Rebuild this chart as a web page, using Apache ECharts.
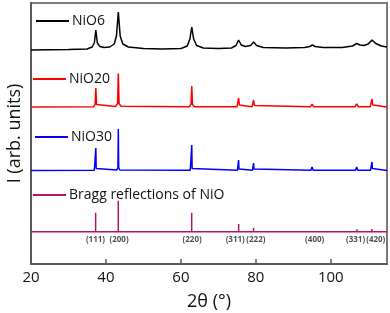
<!DOCTYPE html>
<html><head><meta charset="utf-8">
<script src="https://cdn.jsdelivr.net/npm/echarts@6/dist/echarts.min.js"></script>
<style>html,body{margin:0;padding:0;background:#fff}#c{width:390px;height:313px}</style>
</head><body><div id="c"></div>
<script>
// 2θ (deg) vs intensity (arb., offset)
const nio6 = [[20,214],[30,214.5],[35,215],[36.3,217],[36.9,221],[37.3,234],[37.7,221],[38.4,217.5],[39.5,216.5],[41,217],[42.2,220],[42.8,228],[43.3,252],[43.8,228],[44.5,220],[46,217],[50,215.5],[55,215],[60,215.5],[61.7,218],[62.4,225],[62.9,237],[63.4,225],[64.2,218.5],[66,216],[70,215.5],[73.5,216],[74.7,218.5],[75.4,224],[76.1,219],[77.2,217.5],[78.6,218.5],[79.4,222],[80.2,218.5],[82,216.5],[88,216],[93,216.5],[94.4,217.5],[95.1,219],[95.8,217.5],[98,216.5],[103,216.5],[105.8,218],[106.9,220.5],[107.8,219],[108.8,218.5],[110,220],[111,224],[112,220.5],[113.5,218],[115,217]];
const nio20 = [[20,157],[36.7,157.3],[37.1,159.5],[37.3,176],[37.5,159.5],[37.9,157.5],[42.6,157.6],[43.1,160.5],[43.3,190.5],[43.5,160.5],[44,157.8],[62.2,157.3],[62.7,159.5],[62.9,178],[63.1,159.5],[63.6,157.3],[75,157.3],[75.2,159],[75.4,166],[75.6,159],[75.9,157.3],[79,157.3],[79.2,158.5],[79.4,164],[79.6,158.5],[79.9,157.3],[94.6,157.3],[95,160],[95.4,157.3],[106.4,157.3],[106.9,160],[107.4,157.3],[110.5,157.3],[110.8,159],[111,165],[111.2,159],[111.6,157.3],[115,157]];
const nio30 = [[20,93.5],[36.9,93.8],[37.2,95.5],[37.3,116],[37.4,95.5],[37.7,93.8],[42.9,94],[43.2,96.5],[43.3,135],[43.4,96.5],[43.7,94],[62.5,93.8],[62.8,95.5],[62.9,119],[63.0,95.5],[63.3,93.8],[75.1,93.8],[75.3,95],[75.4,104],[75.5,95],[75.8,93.8],[79.1,93.8],[79.3,95],[79.4,101],[79.5,95],[79.8,93.8],[94.7,93.8],[95,97],[95.3,93.8],[106.6,93.8],[106.9,97],[107.2,93.8],[110.6,93.8],[110.9,95.5],[111,102],[111.1,95.5],[111.4,93.8],[115,93.5]];
const braggPos = [37.25,43.29,62.88,75.42,79.38,95.05,106.99,110.95];
const braggTop = [51.3,63.3,51.3,40,36.3,34,34.7,35];
const braggBase = 32.3;
const hklLabels = ['(111)','(200)','(220)','(311)','(222)','(400)','(331)','(420)'];
const hklLabelX = [37.2,43.5,63,74.5,80,95.7,106.6,112];
const hklLabelY = 24;
const xTicks = [20,40,60,80,100];

const bragg = [[20,braggBase]];
braggPos.forEach((p,i)=>{bragg.push([p,braggBase],[p,braggTop[i]],[p,braggBase]);});
bragg.push([115,braggBase]);
const hkl = hklLabelX.map((x,i)=>({value:[x,hklLabelY],name:hklLabels[i]}));

const FONT = 'Open Sans';
const AX = '#5a5a5a';
function leg(name, left, top){
  return {data:[name], left:left, top:top, padding:0, itemWidth:33, itemHeight:2, itemGap:3,
    icon:'rect', selectedMode:false,
    textStyle:{fontFamily:FONT, fontSize:14, color:'#111', padding:[0,0,0,-2]}};
}
const chart = echarts.init(document.getElementById('c'), null, {renderer:'canvas'});
chart.setOption({
  animation:false,
  grid:{left:31, right:3, top:3, bottom:49, show:true, borderColor:'#7a7a7a', borderWidth:2,
    containLabel:false, outerBoundsMode:'none'},
  legend:[leg('NiO6',36,14), leg('NiO20',33,72), leg('NiO30',35,130), leg('Bragg reflections of NiO',33,188)],
  xAxis:{type:'value', min:20, max:115, interval:20,
    name:'2θ (°)', nameLocation:'middle', nameGap:29,
    nameTextStyle:{fontFamily:FONT, fontSize:18, color:'#111'},
    axisLine:{lineStyle:{color:AX, width:2}},
    axisTick:{inside:true, length:5, lineStyle:{color:AX, width:1.5}},
    axisLabel:{fontFamily:FONT, fontSize:15, color:'#111', margin:6, showMaxLabel:false},
    splitLine:{show:false}},
  yAxis:{type:'value', min:0, max:261,
    name:'I (arb. units)', nameLocation:'middle', nameGap:7,
    nameTextStyle:{fontFamily:FONT, fontSize:18, color:'#111'},
    axisLine:{show:true, lineStyle:{color:AX, width:2}},
    axisTick:{show:false}, axisLabel:{show:false}, splitLine:{show:false}},
  series:[
    {name:'NiO6', type:'line', data:nio6, showSymbol:false, color:'#000', lineStyle:{width:1.5}},
    {name:'NiO20', type:'line', data:nio20, showSymbol:false, color:'#ff0000', lineStyle:{width:1.5}},
    {name:'NiO30', type:'line', data:nio30, showSymbol:false, color:'#0000ff', lineStyle:{width:1.5}},
    {name:'Bragg reflections of NiO', type:'line', data:bragg, showSymbol:false, color:'#b3126f', lineStyle:{width:1.5}},
    {name:'hkl', type:'scatter', data:hkl, symbolSize:0, silent:true,
      label:{show:true, position:'inside', formatter:p=>p.name, fontFamily:FONT, fontSize:8, fontWeight:'bold', color:'#222'}}
  ]
});
</script></body></html>
